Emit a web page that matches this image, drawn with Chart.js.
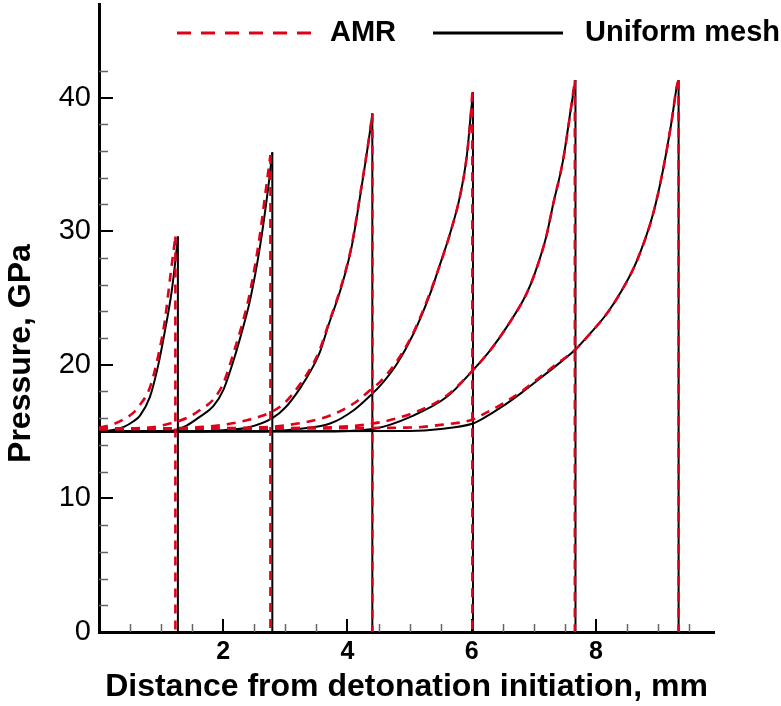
<!DOCTYPE html>
<html>
<head>
<meta charset="utf-8">
<script src="https://cdn.jsdelivr.net/npm/chart.js@4.4.0/dist/chart.umd.min.js"></script>
<style>
  html, body { margin: 0; padding: 0; background: #fff; }
  canvas { display: block; }
</style>
</head>
<body>
<canvas id="chart" width="781" height="706"></canvas>
<script>
// shock front position (mm) and peak pressure (GPa) for each of the 6 snapshots
const uniformShockX = [1.27, 2.79, 4.40, 6.02, 7.67, 9.33];
const uniformPeak = [29.6, 35.9, 38.8, 40.4, 41.3, 41.3];
const amrShockX = [1.23, 2.76, 4.40, 6.01, 7.66, 9.33];
const amrPeak = [29.6, 35.7, 38.8, 40.4, 41.3, 41.3];

// pressure behind the front (Taylor wave), uniform mesh
const uniformX1 = [0, 0.2, 0.4, 0.55, 0.66, 0.82, 0.95, 1.06, 1.17, 1.24];
const uniformP1 = [15.0, 15.1, 15.35, 15.75, 16.2, 17.6, 19.9, 22.5, 25.5, 28.2];
const uniformX2 = [0, 1.0, 1.22, 1.41, 1.62, 1.84, 2.0, 2.21, 2.32, 2.43, 2.59, 2.72];
const uniformP2 = [15.0, 15.0, 15.1, 15.45, 16.1, 16.9, 18.1, 21.0, 22.8, 24.8, 28.8, 33.1];
const uniformX3 = [0, 1.5, 2.0, 2.4, 2.79, 3.0, 3.23, 3.45, 3.56, 3.69, 3.90, 4.07, 4.23, 4.36];
const uniformP3 = [15.0, 15.0, 15.1, 15.3, 16.0, 16.8, 18.2, 19.9, 21.0, 22.9, 25.8, 28.9, 33.4, 37.4];
const uniformX4 = [0, 2.5, 3.2, 3.72, 4.1, 4.39, 4.52, 4.8, 5.06, 5.33, 5.46, 5.65, 5.81, 5.92, 5.99];
const uniformP4 = [15.0, 15.0, 15.2, 15.6, 16.6, 17.8, 18.4, 20.1, 22.3, 25.3, 27.1, 29.8, 32.6, 35.6, 39.0];
const uniformX5 = [0, 3.5, 4.41, 5.06, 5.6, 6.02, 6.3, 6.56, 6.88, 7.02, 7.2, 7.31, 7.47, 7.61];
const uniformP5 = [15.0, 15.0, 15.2, 16.2, 17.6, 19.6, 21.1, 22.8, 25.3, 26.9, 29.6, 32.0, 35.3, 39.6];
const uniformX6 = [0, 5.0, 5.5, 6.02, 6.19, 6.5, 6.8, 7.05, 7.35, 7.66, 7.9, 8.17, 8.42, 8.66, 8.92, 9.08, 9.22, 9.30];
const uniformP6 = [15.0, 15.05, 15.2, 15.6, 16.0, 16.9, 17.9, 18.8, 19.9, 21.1, 22.3, 23.8, 25.6, 27.8, 31.3, 34.6, 38.3, 40.8];

// same, adaptive mesh refinement run
const amrX1 = [0, 0.2, 0.39, 0.55, 0.66, 0.82, 0.95, 1.06, 1.15];
const amrP1 = [15.3, 15.5, 15.9, 16.4, 17.0, 18.3, 20.6, 23.3, 26.7];
const amrX2 = [0, 0.8, 1.14, 1.45, 1.62, 1.84, 2.0, 2.2, 2.32, 2.43, 2.58, 2.70];
const amrP2 = [15.2, 15.3, 15.6, 16.1, 16.6, 17.4, 18.6, 21.4, 23.3, 25.4, 29.4, 33.6];
const amrX3 = [0, 1.5, 2.0, 2.38, 2.64, 2.79, 3.0, 3.23, 3.45, 3.56, 3.69, 3.90, 4.07, 4.23, 4.36];
const amrP3 = [15.2, 15.3, 15.5, 15.85, 16.2, 16.5, 17.2, 18.5, 20.1, 21.2, 23.0, 25.9, 29.0, 33.5, 37.4];
const amrX4 = [0, 2.5, 3.2, 3.72, 4.1, 4.39, 4.52, 4.8, 5.06, 5.33, 5.46, 5.65, 5.81, 5.92, 5.99];
const amrP4 = [15.2, 15.3, 15.6, 16.2, 17.1, 18.2, 18.7, 20.3, 22.4, 25.4, 27.1, 29.8, 32.6, 35.6, 39.0];
const amrX5 = [0, 3.5, 4.41, 5.06, 5.6, 6.02, 6.3, 6.56, 6.88, 7.02, 7.2, 7.31, 7.47, 7.61];
const amrP5 = [15.2, 15.3, 15.6, 16.4, 17.7, 19.6, 21.1, 22.8, 25.3, 26.9, 29.6, 32.0, 35.3, 39.6];
const amrX6 = [0, 5.0, 5.5, 6.02, 6.19, 6.5, 6.8, 7.05, 7.35, 7.66, 7.9, 8.17, 8.42, 8.66, 8.92, 9.08, 9.22, 9.30];
const amrP6 = [15.2, 15.3, 15.5, 15.9, 16.3, 17.1, 18.0, 18.9, 20.0, 21.1, 22.3, 23.8, 25.6, 27.8, 31.3, 34.6, 38.3, 40.8];

const xMajorTicks = [2, 4, 6, 8];
const yMajorTicks = [10, 20, 30, 40];
const seriesNames = ['AMR', 'Uniform mesh'];

const RED = '#e0001b';
const FONT = "'Liberation Sans', Arial, sans-serif";

// smooth rise behind the front, ending at the peak
function rise(xs, ps, shock, peak) {
  const pts = xs.map((x, i) => ({ x: x, y: ps[i] }));
  pts.push({ x: shock, y: peak });
  return pts;
}
// the front itself: straight drop from the peak to zero
function front(shock, peak) {
  return [{ x: shock, y: peak }, { x: shock, y: 0 }];
}

const uniformCurves = [
  [uniformX1, uniformP1], [uniformX2, uniformP2], [uniformX3, uniformP3],
  [uniformX4, uniformP4], [uniformX5, uniformP5], [uniformX6, uniformP6]
];
const amrCurves = [
  [amrX1, amrP1], [amrX2, amrP2], [amrX3, amrP3],
  [amrX4, amrP4], [amrX5, amrP5], [amrX6, amrP6]
];

const amrStyle = {
  label: seriesNames[0],
  borderColor: RED,
  borderWidth: 2.6,
  borderDash: [9, 7],
  pointRadius: 0
};
const uniformStyle = {
  label: seriesNames[1],
  borderColor: '#000',
  borderWidth: 2,
  pointRadius: 0
};

const datasets = [];
// AMR first so the dashes sit on top of the solid lines
amrCurves.forEach((c, i) => {
  datasets.push(Object.assign({}, amrStyle, {
    data: rise(c[0], c[1], amrShockX[i], amrPeak[i]),
    cubicInterpolationMode: 'monotone'
  }));
  datasets.push(Object.assign({}, amrStyle, { data: front(amrShockX[i], amrPeak[i]) }));
});
uniformCurves.forEach((c, i) => {
  datasets.push(Object.assign({}, uniformStyle, {
    data: rise(c[0], c[1], uniformShockX[i], uniformPeak[i]),
    cubicInterpolationMode: 'monotone'
  }));
  datasets.push(Object.assign({}, uniformStyle, { data: front(uniformShockX[i], uniformPeak[i]) }));
});

// inward tick marks, Tecplot style
const innerTicks = {
  id: 'innerTicks',
  beforeDatasetsDraw(chart) {
    const { ctx, chartArea: a, scales: { x, y } } = chart;
    ctx.save();
    ctx.strokeStyle = '#666';
    ctx.lineWidth = 1.5;
    ctx.beginPath();
    for (let v = 0.5; v < x.max; v += 0.5) {
      if (v % 2 === 0) continue;
      const px = Math.round(x.getPixelForValue(v)) + 0.5;
      ctx.moveTo(px, a.bottom);
      ctx.lineTo(px, a.bottom - 8);
    }
    for (let v = 2; v <= 42; v += 2) {
      if (v % 10 === 0) continue;
      const py = Math.round(y.getPixelForValue(v)) + 0.5;
      ctx.moveTo(a.left, py);
      ctx.lineTo(a.left + 9, py);
    }
    ctx.stroke();
    ctx.strokeStyle = '#000';
    ctx.lineWidth = 2;
    ctx.beginPath();
    xMajorTicks.forEach(v => {
      const px = Math.round(x.getPixelForValue(v));
      ctx.moveTo(px, a.bottom);
      ctx.lineTo(px, a.bottom - 13);
    });
    yMajorTicks.forEach(v => {
      const py = Math.round(y.getPixelForValue(v));
      ctx.moveTo(a.left, py);
      ctx.lineTo(a.left + 14, py);
    });
    ctx.stroke();
    ctx.restore();
  }
};

// legend across the top of the plot
const lineLegend = {
  id: 'lineLegend',
  afterDraw(chart) {
    const ctx = chart.ctx;
    const yMid = 33;
    ctx.save();
    ctx.lineWidth = 3;
    ctx.strokeStyle = RED;
    ctx.setLineDash([14, 10]);
    ctx.beginPath();
    ctx.moveTo(177, yMid);
    ctx.lineTo(312, yMid);
    ctx.stroke();
    ctx.setLineDash([]);
    ctx.strokeStyle = '#000';
    ctx.beginPath();
    ctx.moveTo(433, yMid);
    ctx.lineTo(563, yMid);
    ctx.stroke();
    ctx.fillStyle = '#000';
    ctx.font = 'bold 29px ' + FONT;
    ctx.textBaseline = 'middle';
    ctx.textAlign = 'left';
    ctx.fillText(seriesNames[0], 330, yMid);
    ctx.fillText(seriesNames[1], 585, yMid);
    ctx.restore();
  }
};

new Chart(document.getElementById('chart'), {
  type: 'line',
  data: { datasets: datasets },
  plugins: [innerTicks, lineLegend],
  options: {
    responsive: false,
    animation: false,
    devicePixelRatio: 1,
    layout: { padding: { top: 4, right: 67, left: 0, bottom: 0 } },
    plugins: { legend: { display: false }, tooltip: { enabled: false } },
    scales: {
      x: {
        type: 'linear',
        min: 0,
        max: 9.9,
        grid: { display: false, drawTicks: false },
        border: { display: true, color: '#000', width: 3 },
        ticks: {
          stepSize: 2,
          includeBounds: false,
          padding: 5,
          color: '#000',
          font: { family: FONT, size: 25, weight: 'bold' },
          callback: v => (v === 0 ? '' : v)
        },
        title: {
          display: true,
          text: 'Distance from detonation initiation, mm',
          color: '#000',
          font: { family: FONT, size: 32, weight: 'bold' },
          padding: { top: 0, bottom: 0 }
        },
        afterFit: s => {
          s.height = 74;
          s.paddingLeft = 0;
          s.paddingRight = 0;
        }
      },
      y: {
        min: 0,
        max: 47,
        grid: { display: false, drawTicks: false },
        border: { display: true, color: '#000', width: 3 },
        ticks: {
          stepSize: 10,
          includeBounds: false,
          padding: 8,
          color: '#000',
          font: { family: FONT, size: 29 }
        },
        title: {
          display: true,
          text: 'Pressure, GPa\u00a0\u00a0\u00a0\u00a0\u00a0\u00a0\u00a0\u00a0',
          color: '#000',
          font: { family: FONT, size: 32, weight: 'bold' },
          padding: { top: 2, bottom: 0 }
        },
        afterFit: s => {
          s.width = 99;
          s.paddingTop = 0;
          s.paddingBottom = 0;
        }
      }
    }
  }
});
</script>
</body>
</html>
